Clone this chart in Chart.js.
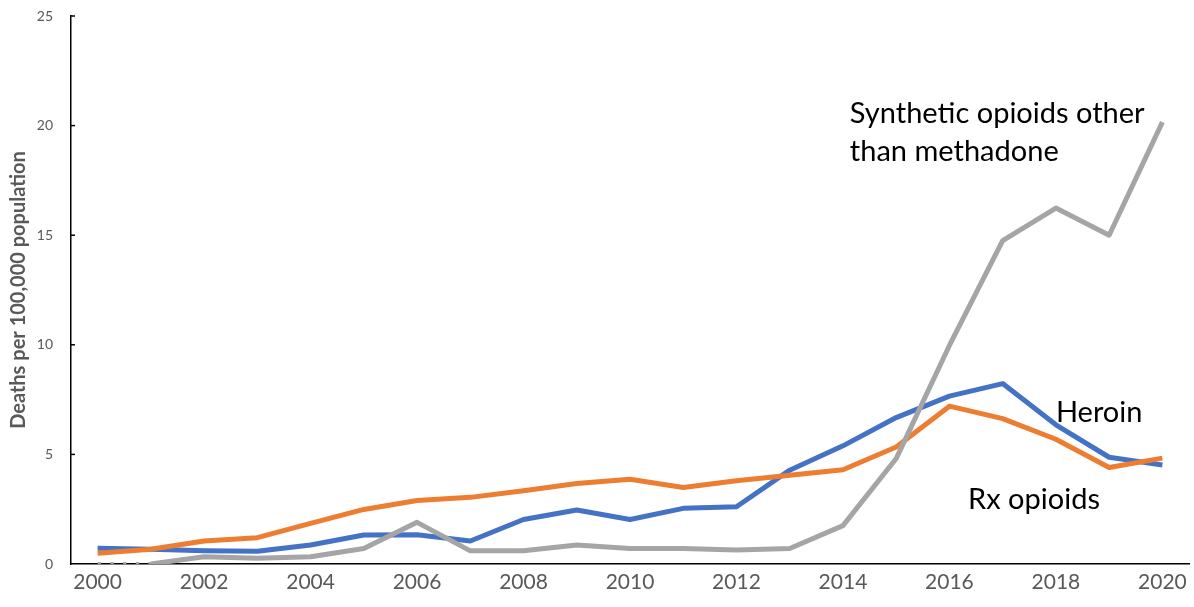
<!DOCTYPE html>
<html lang="en">

<head>
    <meta charset="UTF-8">
    <title>Opioid deaths by type</title>
    <style>
        body { margin: 0; background: #fff; }
        #wrap { width: 1194px; height: 607px; position: relative; }
    </style>
</head>

<body>
    <div id="wrap">
        <canvas id="deaths"></canvas>
    </div>

    <script src="https://cdn.jsdelivr.net/npm/chart.js"></script>
    <script>

        const years = ['2000', '2001', '2002', '2003', '2004', '2005', '2006', '2007', '2008', '2009', '2010',
            '2011', '2012', '2013', '2014', '2015', '2016', '2017', '2018', '2019', '2020'];

        // deaths per 100,000 population
        const heroin = [0.72, 0.67, 0.6, 0.58, 0.87, 1.32, 1.33, 1.05, 2.03, 2.46, 2.03,
            2.54, 2.61, 4.28, 5.39, 6.68, 7.66, 8.23, 6.35, 4.87, 4.52];
        const rxOpioids = [0.49, 0.67, 1.05, 1.2, 1.85, 2.49, 2.9, 3.04, 3.34, 3.67, 3.87,
            3.49, 3.8, 4.05, 4.3, 5.34, 7.2, 6.63, 5.69, 4.4, 4.83];
        const synthetic = [0, 0, 0.33, 0.26, 0.33, 0.71, 1.9, 0.6, 0.6, 0.87, 0.71,
            0.71, 0.64, 0.71, 1.75, 4.81, 9.97, 14.75, 16.24, 15.0, 20.16];

        const yTicks = [0, 5, 10, 15, 20, 25];

        // series names written next to the lines: [text lines, category index, value]
        const lineLabels = [
            [['Synthetic opioids other', 'than methadone'], 14.13, 20.55],
            [['Heroin'], 18, 6.9],
            [['Rx opioids'], 16.35, 2.95]
        ];

        const fontFamily = 'Lato, "Open Sans", sans-serif';

        // short tick marks on the inside of the y axis + the series labels
        const extras = {
            id: 'extras',
            afterDatasetsDraw(chart) {
                const { ctx, scales: { x, y } } = chart;
                ctx.save();
                ctx.strokeStyle = '#000';
                ctx.lineWidth = 1.5;
                yTicks.slice(1).forEach(v => {
                    const py = y.getPixelForValue(v);
                    ctx.beginPath();
                    ctx.moveTo(x.left, py);
                    ctx.lineTo(x.left + 4, py);
                    ctx.stroke();
                });

                ctx.fillStyle = '#000';
                ctx.font = '29px ' + fontFamily;
                ctx.textAlign = 'left';
                ctx.textBaseline = 'middle';
                lineLabels.forEach(([lines, idx, val]) => {
                    const px = x.getPixelForValue(idx);
                    const py = y.getPixelForValue(val);
                    lines.forEach((t, i) => ctx.fillText(t, px, py + i * 38));
                });
                ctx.restore();
            }
        };

        const config = {
            type: 'line',
            data: {
                labels: years,
                datasets: [{
                    label: 'Synthetic opioids other than methadone',
                    data: synthetic,
                    borderColor: '#A5A5A5',
                    order: 0,
                    segment: {
                        // no reported deaths before 2001: dotted
                        borderDash: ctx => ctx.p0DataIndex === 0 ? [3.5, 9.2] : undefined,
                        borderWidth: ctx => ctx.p0DataIndex === 0 ? 4 : 5
                    }
                },
                {
                    label: 'Rx opioids',
                    data: rxOpioids,
                    borderColor: '#ED7D31',
                    order: 1
                },
                {
                    label: 'Heroin',
                    data: heroin,
                    borderColor: '#4472C4',
                    order: 2
                }]
            },
            options: {
                responsive: true,
                maintainAspectRatio: false,
                animation: false,
                layout: { padding: { top: 16, right: 5, left: 0, bottom: 0 } },
                elements: {
                    line: { borderWidth: 5, tension: 0, borderJoinStyle: 'round', borderCapStyle: 'butt' },
                    point: { radius: 0 }
                },
                plugins: {
                    legend: { display: false },
                    tooltip: { enabled: false }
                },
                scales: {
                    x: {
                        offset: true,
                        grid: { display: false, drawTicks: false },
                        border: { color: '#000', width: 1.5 },
                        ticks: {
                            autoSkip: false,
                            maxRotation: 0,
                            padding: 6,
                            color: '#595959',
                            font: { family: fontFamily, size: 21 },
                            callback: (v, i) => i % 2 === 0 ? years[i] : ''
                        },
                        afterFit: s => { s.height = 43; }
                    },
                    y: {
                        min: 0,
                        max: 25,
                        afterBuildTicks: s => { s.ticks = yTicks.map(v => ({ value: v })); },
                        grid: { display: false, drawTicks: false },
                        border: { color: '#000', width: 1.5 },
                        ticks: {
                            padding: 18,
                            color: '#595959',
                            font: { family: fontFamily, size: 14 }
                        },
                        title: {
                            display: true,
                            text: 'Deaths per 100,000 population',
                            color: '#595959',
                            padding: { top: 7, bottom: 0 },
                            font: { family: fontFamily, size: 20, weight: 'bold' }
                        },
                        afterFit: s => {
                            s.width = 71;
                            s.paddingTop = 0;
                            s.paddingBottom = 0;
                        }
                    }
                }
            },
            plugins: [extras]
        };

        const chart = new Chart(document.getElementById('deaths'), config);

    </script>
</body>

</html>
